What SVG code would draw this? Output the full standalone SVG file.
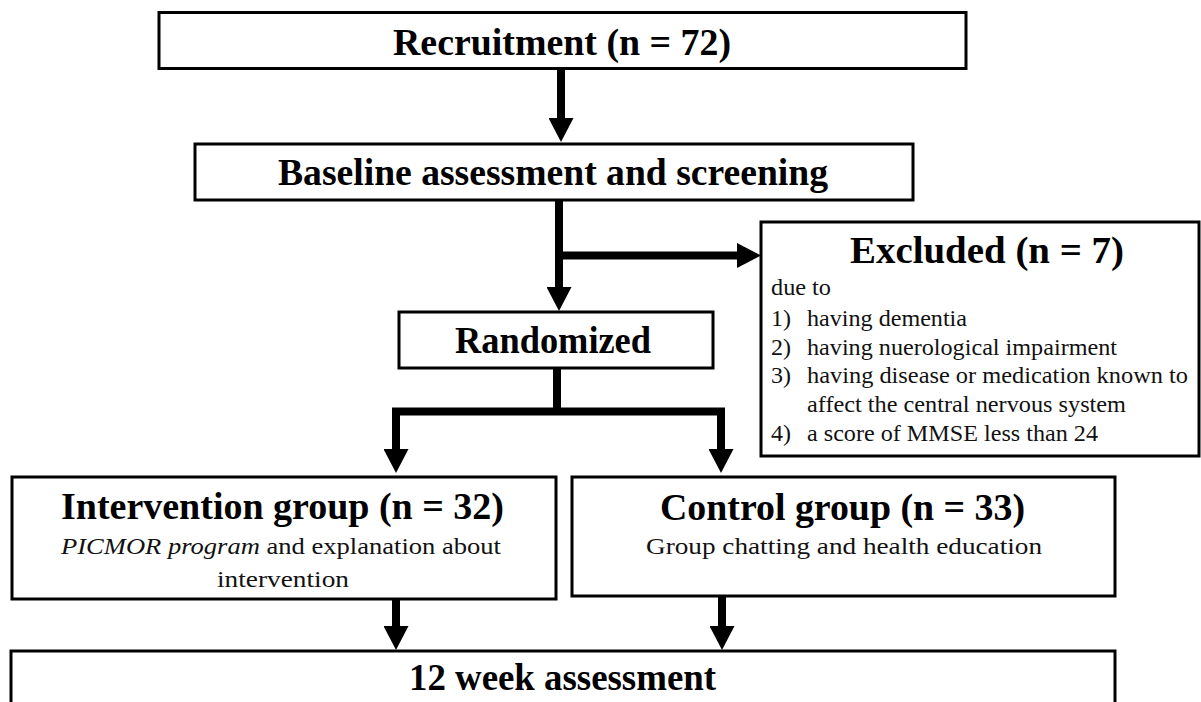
<svg xmlns="http://www.w3.org/2000/svg" width="1201" height="702" viewBox="0 0 1201 702">
<style>
.box{fill:#fff;stroke:#000;stroke-width:3}
.t{font-family:"Liberation Serif","Times New Roman",serif;font-weight:bold;font-size:38px;fill:#000}
.b{font-family:"Liberation Serif","Times New Roman",serif;font-size:24px;fill:#111}
.c{fill:none;stroke:#000;stroke-width:8}
</style>
<defs>
<marker id="ah" markerUnits="userSpaceOnUse" markerWidth="24" markerHeight="25" viewBox="0 0 24 25" refX="0" refY="12.5" orient="auto">
<path d="M0,0 L24,12.5 L0,25 Z" fill="#000"/>
</marker>
</defs>
<rect width="1201" height="702" fill="#fff"/>
<g id="connectors">
<path class="c" d="M561,69 V118" marker-end="url(#ah)"/>
<path class="c" d="M559,200 V287" marker-end="url(#ah)"/>
<path class="c" d="M555,255.5 H737" marker-end="url(#ah)"/>
<path class="c" d="M557,368 V411.5"/>
<path class="c" d="M392,411.5 H725"/>
<path class="c" d="M396,408 V449" marker-end="url(#ah)"/>
<path class="c" d="M721,408 V449" marker-end="url(#ah)"/>
<path class="c" d="M396,599 V626" marker-end="url(#ah)"/>
<path class="c" d="M722,596 V626" marker-end="url(#ah)"/>
</g>
<g id="recruitment">
<rect class="box" x="159" y="12.5" width="807" height="56"/>
<text class="t" x="393" y="55" textLength="338" lengthAdjust="spacingAndGlyphs">Recruitment  (n = 72)</text>
</g>
<g id="baseline">
<rect class="box" x="195" y="144" width="718" height="56"/>
<text class="t" x="278" y="185" textLength="550" lengthAdjust="spacingAndGlyphs">Baseline  assessment  and  screening</text>
</g>
<g id="excluded">
<rect class="box" x="761" y="222" width="438" height="234"/>
<text class="t" x="850" y="263" textLength="274" lengthAdjust="spacingAndGlyphs">Excluded  (n = 7)</text>
<text class="b" x="771" y="295" textLength="60" lengthAdjust="spacingAndGlyphs">due to</text>
<text class="b" x="771" y="326">1)</text>
<text class="b" x="807" y="326" textLength="160" lengthAdjust="spacingAndGlyphs">having dementia</text>
<text class="b" x="771" y="355">2)</text>
<text class="b" x="807" y="355" textLength="310" lengthAdjust="spacingAndGlyphs">having nuerological impairment</text>
<text class="b" x="771" y="383">3)</text>
<text class="b" x="807" y="383" textLength="381" lengthAdjust="spacingAndGlyphs">having disease or medication known to</text>
<text class="b" x="807" y="412" textLength="319" lengthAdjust="spacingAndGlyphs">affect the central nervous system</text>
<text class="b" x="771" y="441">4)</text>
<text class="b" x="807" y="441" textLength="291" lengthAdjust="spacingAndGlyphs">a score of MMSE  less than 24</text>
</g>
<g id="randomized">
<rect class="box" x="399" y="312" width="314" height="56"/>
<text class="t" x="455" y="353" textLength="196" lengthAdjust="spacingAndGlyphs">Randomized</text>
</g>
<g id="intervention">
<rect class="box" x="12" y="477" width="544" height="122"/>
<text class="t" x="61" y="519" textLength="443" lengthAdjust="spacingAndGlyphs">Intervention  group (n = 32)</text>
<text class="b" x="61" y="554" textLength="440" lengthAdjust="spacingAndGlyphs"><tspan font-style="italic">PICMOR program</tspan> and explanation about</text>
<text class="b" x="217" y="587" textLength="132" lengthAdjust="spacingAndGlyphs">intervention</text>
</g>
<g id="control">
<rect class="box" x="572" y="477" width="543" height="119"/>
<text class="t" x="660" y="520" textLength="365" lengthAdjust="spacingAndGlyphs">Control  group (n = 33)</text>
<text class="b" x="646" y="554" textLength="396" lengthAdjust="spacingAndGlyphs">Group chatting and health education</text>
</g>
<g id="week12">
<rect class="box" x="11" y="651" width="1104" height="62"/>
<text class="t" x="409" y="690" textLength="307" lengthAdjust="spacingAndGlyphs">12  week  assessment</text>
</g>
</svg>
